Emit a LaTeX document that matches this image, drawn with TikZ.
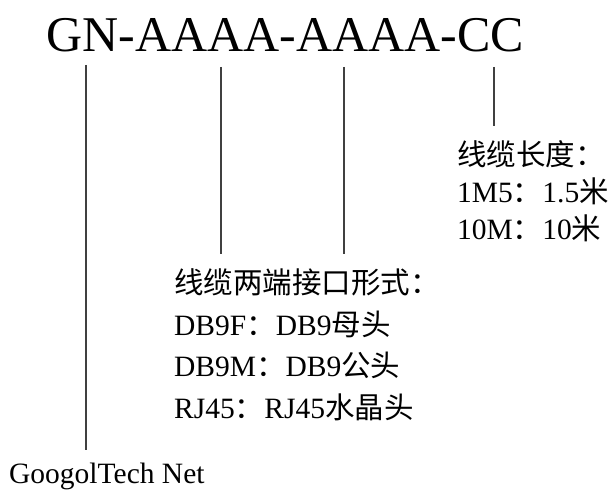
\documentclass[tikz,border=0pt]{standalone}
\usepackage{fontspec}
\setmainfont{Liberation Serif}
\newfontfamily\cjk{Noto Sans CJK SC}
\begin{document}
\begin{tikzpicture}[x=1pt,y=-1pt,
  lbl/.style={inner sep=0pt,anchor=base west,font=\fontsize{29.5}{35}\selectfont},
  ttl/.style={inner sep=0pt,anchor=base west,font=\fontsize{50}{60}\selectfont},
  lead/.style={line width=1.6pt,draw=black!75}]
\useasboundingbox (0,0) rectangle (611,492);
\node[ttl] (title) at (46,52) {GN-AAAA-AAAA-CC};
% left block
\node[lbl] (l1) at (174,293.5) {{\cjk 线缆两端接口形式：}};
\node[lbl] (l2) at (174,335) {DB9F{\cjk ：}DB9{\cjk 母头}};
\node[lbl] (l3) at (174,376.5) {DB9M{\cjk ：}DB9{\cjk 公头}};
\node[lbl] (l4) at (174,418) {RJ45{\cjk ：}RJ45{\cjk 水晶头}};
% right block
\node[lbl] (r1) at (457,166) {{\cjk 线缆长度：}};
\node[lbl] (r2) at (457,203) {1M5{\cjk ：}1.5{\cjk 米}};
\node[lbl] (r3) at (457,240) {10M{\cjk ：}10{\cjk 米}};
% bottom
\node[lbl] (g) at (9,483) {GoogolTech Net};
% leader ends
\coordinate (a1) at (86,65);  \coordinate (b1) at (86,450);
\coordinate (a2) at (221,67); \coordinate (b2) at (221,254);
\coordinate (a3) at (344,67); \coordinate (b3) at (344,254);
\coordinate (a4) at (494,67); \coordinate (b4) at (494,126);
\draw[lead] (a1) -- (b1);
\draw[lead] (a2) -- (b2);
\draw[lead] (a3) -- (b3);
\draw[lead] (a4) -- (b4);
\end{tikzpicture}
\end{document}
